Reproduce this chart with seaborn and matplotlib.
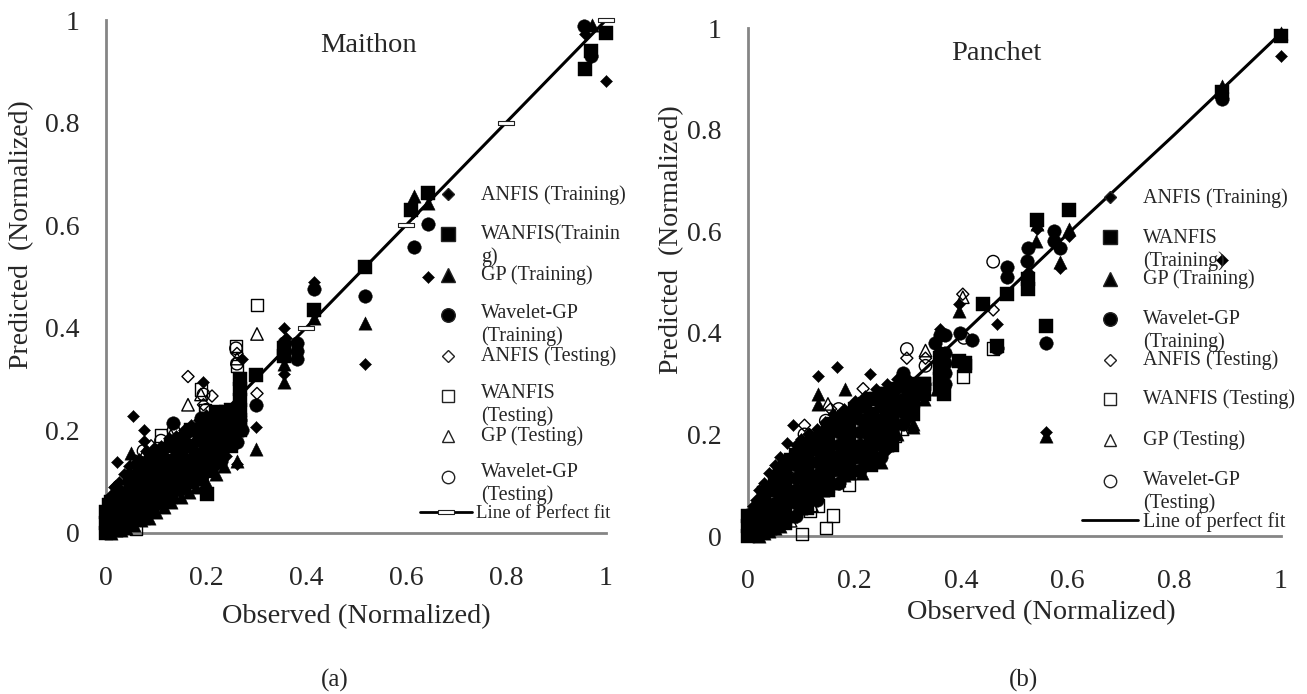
import matplotlib
matplotlib.use('Agg')
import matplotlib.pyplot as plt
import seaborn as sns

# values as (observed, predicted)
tick_values = [0, 0.2, 0.4, 0.6, 0.8, 1]
tick_labels = ['0', '0.2', '0.4', '0.6', '0.8', '1']

# Maithon
m_anfis_train = [(0, .05), (.005, .06), (.01, .075), (.015, .09), (.022, .138), (.025, .1), (.035, .115), (.045, .13),
                 (.054, .228), (.055, .135), (.065, .145), (.076, .2), (.076, .18), (.08, .16), (.095, .165), (.11, .17),
                 (.125, .185), (.14, .19), (.155, .2), (.17, .21), (.194, .295), (.185, .22), (.2, .23), (.22, .2),
                 (.24, .17), (.262, .135), (.272, .34), (.265, .28), (.3, .206), (.355, .4), (.355, .31), (.36, .38),
                 (.415, .49), (.517, .33), (.614, .624), (.644, .5), (.958, .972), (1, .882), (.03, .03), (.05, .05),
                 (.07, .07), (.09, .09), (.11, .11), (.13, .13), (.15, .13), (.17, .15), (.19, .14), (.21, .16),
                 (.02, .03), (.02, .05), (.02, .07), (.04, .02), (.04, .05), (.04, .08), (.04, .1), (.06, .03), (.06, .06),
                 (.06, .09), (.06, .12), (.08, .04), (.08, .065), (.08, .09), (.08, .115), (.08, .14), (.1, .05), (.1, .075),
                 (.1, .1), (.1, .125), (.1, .15), (.12, .065), (.12, .09), (.12, .115), (.12, .14), (.12, .165), (.14, .08),
                 (.14, .105), (.14, .13), (.14, .155), (.14, .175), (.16, .09), (.16, .115), (.16, .14), (.16, .165),
                 (.16, .19), (.18, .105), (.18, .13), (.18, .155), (.18, .18), (.18, .205), (.2, .115), (.2, .14), (.2, .165),
                 (.2, .19), (.2, .21), (.22, .13), (.22, .155), (.22, .18), (.22, .205), (.22, .225), (.24, .15), (.24, .175),
                 (.24, .2), (.24, .225)]
m_wanfis_train = [(0, 0), (0, .02), (0, .04), (.005, .055), (.01, .01), (.02, .02), (.03, .05), (.04, .04), (.05, .06),
                  (.06, .05), (.07, .09), (.08, .07), (.09, .1), (.1, .09), (.11, .12), (.12, .11), (.13, .14), (.14, .12),
                  (.15, .15), (.16, .13), (.17, .17), (.18, .15), (.19, .2), (.2, .22), (.21, .18), (.22, .235),
                  (.23, .21), (.24, .235), (.202, .076), (.268, .3), (.268, .28), (.268, .26), (.3, .308), (.355, .36),
                  (.355, .345), (.415, .435), (.517, .518), (.61, .63), (.644, .663), (.958, .905), (.97, .939), (1, .975),
                  (.01, .02), (.01, .04), (.01, .06), (.05, .02), (.05, .04), (.05, .09), (.05, .11), (.09, .045),
                  (.09, .07), (.09, .12), (.09, .145), (.13, .07), (.13, .095), (.13, .12), (.13, .17), (.17, .1),
                  (.17, .125), (.17, .2), (.21, .12), (.21, .145), (.21, .17), (.21, .195), (.21, .22), (.25, .17),
                  (.25, .195), (.25, .22), (.25, .24), (.268, .2), (.268, .22), (.268, .24)]
m_gp_train = [(.01, 0), (.02, .005), (.03, .005), (.04, .01), (.055, .015), (.07, .025), (.085, .03), (.1, .04),
              (.115, .05), (.13, .06), (.15, .07), (.165, .08), (.18, .09), (.2, .1), (.22, .115), (.235, .13), (.262, .14),
              (.3, .164), (.355, .295), (.355, .33), (.415, .42), (.517, .41), (.616, .656), (.644, .644), (.972, .991),
              (.05, .155), (.03, .08), (.06, .1), (.09, .13), (.12, .15), (.15, .18), (.18, .19), (.268, .24)]
m_wavelet_train = [(0, .01), (.01, .03), (.02, .04), (.03, .065), (.04, .07), (.05, .085), (.06, .075), (.07, .11),
                   (.08, .1), (.09, .115), (.1, .07), (.11, .08), (.12, .09), (.13, .1), (.134, .215), (.14, .09), (.15, .11),
                   (.16, .105), (.17, .125), (.18, .12), (.19, .105), (.2, .135), (.21, .14), (.225, .15), (.24, .19),
                   (.262, .177), (.268, .22), (.272, .2), (.3, .25), (.355, .37), (.355, .35), (.381, .37), (.381, .355),
                   (.381, .34), (.415, .475), (.517, .462), (.616, .558), (.644, .603), (.956, .989), (.97, .93),
                   (.03, .02), (.03, .04), (.03, .06), (.03, .08), (.07, .03), (.07, .055), (.07, .08), (.07, .105), (.07, .13),
                   (.11, .06), (.11, .085), (.11, .11), (.11, .135), (.11, .155), (.15, .085), (.15, .11), (.15, .135),
                   (.15, .16), (.15, .185), (.19, .105), (.19, .13), (.19, .155), (.19, .18), (.19, .205), (.19, .225),
                   (.23, .14), (.23, .165), (.23, .19), (.23, .215), (.23, .235)]
m_anfis_test = [(.164, .305), (.212, .267), (.262, .35), (.302, .272), (.09, .17), (.06, .14), (.02, .09), (.195, .25),
                (.1, .13), (.04, .03), (.23, .18), (.15, .09)]
m_wanfis_test = [(.302, .445), (.26, .365), (.262, .325), (.198, .24), (.06, .008), (.19, .28), (.11, .19), (.03, .09),
                 (.075, .03), (.15, .1), (.09, .05)]
m_gp_test = [(.302, .388), (.164, .25), (.262, .34), (.19, .27), (.08, .16), (.13, .19), (.25, .21), (.04, .1)]
m_wavelet_test = [(.26, .36), (.262, .33), (.195, .27), (.2, .24), (.11, .18), (.075, .16), (.025, .08), (.135, .2)]

# Panchet
p_anfis_train = [(0, .03), (.005, .05), (.01, .06), (.015, .07), (.02, .09), (.03, .105), (.04, .125), (.05, .14),
                 (.06, .155), (.073, .184), (.084, .218), (.09, .18), (.1, .19), (.115, .2), (.131, .314), (.13, .21),
                 (.145, .225), (.16, .24), (.167, .333), (.18, .25), (.2, .265), (.22, .275), (.229, .319), (.24, .29),
                 (.26, .3), (.28, .31), (.3, .31), (.32, .3), (.36, .408), (.396, .457), (.467, .418), (.525, .52),
                 (.542, .605), (.56, .204), (.585, .527), (.602, .59), (.89, .87), (.89, .543), (1, .945),
                 (.02, .03), (.04, .05), (.06, .07), (.08, .09), (.1, .11), (.12, .12), (.14, .14), (.16, .15), (.18, .17),
                 (.2, .18), (.22, .2), (.24, .22), (.26, .25), (.28, .26), (.3, .27),
                 (.06, .03), (.06, .055), (.06, .08), (.06, .105), (.06, .13), (.1, .06), (.1, .085), (.1, .135), (.1, .16),
                 (.14, .09), (.14, .115), (.14, .13), (.14, .155), (.14, .18), (.14, .205), (.18, .12), (.18, .14),
                 (.18, .165), (.18, .19), (.18, .215), (.22, .15), (.22, .175), (.22, .225), (.22, .25), (.26, .17),
                 (.26, .195), (.26, .22), (.26, .245), (.26, .27), (.3, .23), (.3, .255), (.3, .28), (.3, .305)]
p_wanfis_train = [(0, 0), (0, .02), (0, .04), (.01, .015), (.01, .04), (.02, .05), (.03, .07), (.04, .09), (.05, .1),
                  (.06, .12), (.07, .135), (.08, .15), (.09, .16), (.1, .17), (.11, .18), (.12, .19), (.13, .19),
                  (.14, .2), (.15, .21), (.16, .22), (.17, .23), (.18, .235), (.19, .24), (.2, .25), (.21, .255), (.22, .26),
                  (.23, .27), (.24, .27), (.25, .28), (.26, .28), (.27, .29), (.29, .3), (.31, .3), (.33, .3),
                  (.33, .28), (.367, .28), (.36, .33), (.395, .345), (.407, .34), (.407, .335), (.44, .457), (.486, .476),
                  (.525, .487), (.525, .506), (.542, .622), (.56, .414), (.602, .641), (.467, .375), (.89, .875), (1, .985),
                  (.03, .015), (.03, .04), (.03, .065), (.03, .085), (.07, .025), (.07, .05), (.07, .075), (.07, .1),
                  (.07, .125), (.11, .055), (.11, .08), (.11, .105), (.11, .13), (.11, .155), (.15, .09), (.15, .115),
                  (.15, .14), (.15, .165), (.15, .19), (.19, .125), (.19, .15), (.19, .175), (.19, .2), (.19, .225),
                  (.23, .14), (.23, .165), (.23, .19), (.23, .215), (.23, .24), (.27, .18), (.27, .205), (.27, .23),
                  (.27, .255), (.27, .28), (.31, .24), (.31, .265), (.31, .29), (.36, .29), (.36, .31), (.36, .35)]
p_gp_train = [(.02, 0), (.03, .005), (.04, .01), (.05, .015), (.06, .02), (.07, .035), (.08, .04), (.09, .05), (.1, .055),
              (.11, .065), (.12, .075), (.13, .085), (.14, .09), (.15, .1), (.16, .105), (.17, .11), (.18, .12), (.19, .125),
              (.2, .13), (.213, .125), (.22, .15), (.235, .16), (.25, .145), (.26, .18), (.28, .2), (.31, .22), (.31, .215),
              (.33, .27), (.355, .29), (.396, .443), (.131, .28), (.131, .26), (.182, .29), (.54, .58), (.542, .615),
              (.56, .197), (.585, .54), (.602, .604), (.89, .885), (1, .99), (.06, .09), (.1, .13), (.14, .17), (.18, .2)]
p_wavelet_train = [(0, .01), (.01, .005), (.02, .015), (.03, .03), (.04, .03), (.05, .045), (.06, .05), (.07, .06),
                   (.08, .07), (.09, .08), (.1, .085), (.11, .1), (.12, .1), (.13, .115), (.14, .12), (.15, .13), (.16, .13),
                   (.17, .14), (.18, .145), (.19, .15), (.2, .155), (.21, .17), (.22, .175), (.23, .19), (.24, .195), (.25, .2),
                   (.26, .22), (.27, .23), (.29, .25), (.31, .26), (.33, .3), (.35, .38), (.36, .395), (.37, .395), (.36, .36),
                   (.36, .34), (.398, .4), (.42, .385), (.467, .37), (.486, .529), (.486, .51), (.523, .541), (.525, .567),
                   (.56, .38), (.574, .6), (.574, .58), (.585, .567), (.89, .86),
                   (.05, .015), (.05, .04), (.05, .065), (.05, .09), (.05, .115), (.09, .04), (.09, .065), (.09, .09),
                   (.09, .115), (.09, .14), (.13, .07), (.13, .095), (.13, .12), (.13, .145), (.13, .17), (.13, .195),
                   (.17, .105), (.17, .13), (.17, .155), (.17, .18), (.17, .205), (.21, .13), (.21, .155), (.21, .18),
                   (.21, .205), (.21, .23), (.25, .155), (.25, .18), (.25, .205), (.25, .23), (.25, .255), (.29, .22),
                   (.29, .245), (.29, .27), (.29, .295), (.29, .32), (.37, .3), (.37, .32), (.37, .34), (.37, .36)]
p_anfis_test = [(.049, .12), (.106, .218), (.216, .29), (.298, .35), (.333, .35), (.403, .476), (.46, .445), (.155, .25),
                (.09, .13), (.18, .16), (.26, .21), (.115, .2)]
p_wanfis_test = [(.101, .004), (.146, .016), (.16, .04), (.116, .05), (.276, .198), (.403, .314), (.46, .369), (.24, .16),
                 (.19, .1), (.13, .06), (.33, .3)]
p_gp_test = [(.333, .365), (.403, .47), (.15, .26), (.12, .06), (.2, .26), (.29, .21), (.08, .03), (.25, .22)]
p_wavelet_test = [(.106, .2), (.146, .227), (.298, .368), (.333, .335), (.405, .39), (.46, .54), (.17, .25), (.11, .08)]

line_x = [0, 0.2, 0.4, 0.6, 0.8, 1]
m_line_y = [0, 0.2, 0.4, 0.6, 0.8, 1]
p_line_y = [0, 0.2, 0.395, 0.595, 0.79, 0.99]
m_line_marks_x = [0.4, 0.6, 0.8, 1]

series_labels = ['ANFIS (Training)', 'WANFIS(Trainin\ng)', 'GP (Training)', 'Wavelet-GP\n(Training)',
                 'ANFIS (Testing)', 'WANFIS\n(Testing)', 'GP (Testing)', 'Wavelet-GP\n(Testing)']
p_labels = ['ANFIS (Training)', 'WANFIS\n(Training)', 'GP (Training)', 'Wavelet-GP\n(Training)',
            'ANFIS (Testing)', 'WANFIS (Testing)', 'GP (Testing)', 'Wavelet-GP\n(Testing)']

W, H = 1307, 694
GREY = '#858585'
TXT = '#262626'
DASH = [(-1, -.25), (1, -.25), (1, .25), (-1, .25), (-1, -.25)]

sns.set_style('white')
plt.rcParams['font.family'] = ['Liberation Serif', 'DejaVu Serif']

fig = plt.figure(figsize=(W / 100, H / 100), dpi=100)


def fx(px):
    return px / W


def fy(py):
    return 1 - py / H


# marker, size, filled
styles = [('D', 38, True), ('s', 88, True), ('^', 92, True), ('o', 95, True),
          ('D', 38, False), ('s', 80, False), ('^', 80, False), ('o', 80, False)]


def draw_points(ax, pts, style):
    marker, size, filled = style
    x = [p[0] for p in pts]
    y = [p[1] for p in pts]
    if filled:
        sns.scatterplot(x=x, y=y, ax=ax, marker=marker, s=size, color='black', edgecolor='black',
                        linewidth=0.3, clip_on=False, zorder=3)
    else:
        sns.scatterplot(x=x, y=y, ax=ax, marker=marker, s=size, facecolors='none', edgecolor='black',
                        linewidth=1.0, clip_on=False, zorder=4)


def setup_axes(rect):
    ax = fig.add_axes(rect)
    ax.set_xlim(0, 1)
    ax.set_ylim(0, 1)
    ax.set_xticks(tick_values, tick_labels)
    ax.set_yticks(tick_values, tick_labels)
    ax.tick_params(axis='x', direction='in', length=6, width=1.5, color=GREY, labelsize=20, labelcolor=TXT, pad=24)
    ax.tick_params(axis='y', direction='in', length=6, width=1.5, color=GREY, labelsize=20, labelcolor=TXT, pad=19)
    sns.despine(ax=ax)
    for side in ['left', 'bottom']:
        ax.spines[side].set_color(GREY)
        ax.spines[side].set_linewidth(2)
    ax.patch.set_alpha(0)
    return ax


def legend_entry(px, py, tx, ty, style, text, fontsize=14.5):
    marker, size, filled = style
    fig.add_artist(plt.Line2D([fx(px)], [fy(py)], marker=marker, markersize=size ** 0.5,
                              markerfacecolor='black' if filled else 'none', markeredgecolor='#222222',
                              markeredgewidth=1.0, linestyle='none', transform=fig.transFigure))
    fig.text(fx(tx), fy(ty), text, fontsize=fontsize, color=TXT, va='center', ha='left', linespacing=1.2)


# panel (a)
ax1 = setup_axes([fx(106), fy(533), 500 / W, 513 / H])
maithon = [m_anfis_train, m_wanfis_train, m_gp_train, m_wavelet_train,
           m_anfis_test, m_wanfis_test, m_gp_test, m_wavelet_test]
for pts, st in zip(maithon, styles):
    draw_points(ax1, pts, st)
sns.lineplot(x=line_x, y=m_line_y, ax=ax1, color='black', linewidth=2.2, zorder=5)
ax1.plot(m_line_marks_x, m_line_marks_x, linestyle='none', marker=DASH, markersize=11, markerfacecolor='white',
         markeredgecolor='#222222', markeredgewidth=0.8, zorder=6, clip_on=False)

# panel (b)
ax2 = setup_axes([fx(748), fy(536), 533 / W, 508 / H])
panchet = [p_anfis_train, p_wanfis_train, p_gp_train, p_wavelet_train,
           p_anfis_test, p_wanfis_test, p_gp_test, p_wavelet_test]
for pts, st in zip(panchet, styles):
    draw_points(ax2, pts, st)
sns.lineplot(x=line_x, y=p_line_y, ax=ax2, color='black', linewidth=2.2, zorder=5)

# legends are hand placed, the entries wrap and overlap in the original
m_rows = [(194, 195), (234, 246), (275, 275), (315, 325), (356, 356), (396, 405), (436, 436), (477, 484)]
for (my, ty), st, label in zip(m_rows, styles, series_labels):
    legend_entry(448, my, 481, ty, st, label)
fig.add_artist(plt.Line2D([fx(420), fx(472)], [fy(512), fy(512)], color='black', linewidth=2,
                          transform=fig.transFigure))
fig.add_artist(plt.Line2D([fx(446)], [fy(512)], marker=DASH, markersize=11, markerfacecolor='white',
                          markeredgecolor='#222222', markeredgewidth=0.8, linestyle='none', transform=fig.transFigure))
fig.text(fx(476), fy(514), 'Line of Perfect fit', fontsize=13.5, color=TXT, va='center')

p_rows = [(197, 198), (237, 250), (279, 279), (319, 331), (360, 360), (399, 399), (440, 440), (481, 492)]
for (my, ty), st, label in zip(p_rows, styles, p_labels):
    legend_entry(1110, my, 1143, ty, st, label)
fig.add_artist(plt.Line2D([fx(1082), fx(1138)], [fy(520), fy(520)], color='black', linewidth=2,
                          transform=fig.transFigure))
fig.text(fx(1143), fy(522), 'Line of perfect fit', fontsize=14.5, color=TXT, va='center')

# titles and axis labels
fig.text(fx(368), fy(46), 'Maithon', fontsize=20.5, color=TXT, ha='center', va='center')
fig.text(fx(996), fy(54), 'Panchet', fontsize=20.5, color=TXT, ha='center', va='center')
fig.text(fx(22), fy(235), 'Predicted  (Normalized)', fontsize=20, color=TXT, rotation=90, ha='center', va='center')
fig.text(fx(672), fy(240), 'Predicted  (Normalized)', fontsize=20, color=TXT, rotation=90, ha='center', va='center')
fig.text(fx(356), fy(617), 'Observed (Normalized)', fontsize=20.4, color=TXT, ha='center', va='center')
fig.text(fx(1041), fy(613), 'Observed (Normalized)', fontsize=20.4, color=TXT, ha='center', va='center')
fig.text(fx(335), fy(680), '(a)', fontsize=18, color=TXT, ha='center', va='center')
fig.text(fx(1024), fy(680), '(b)', fontsize=18, color=TXT, ha='center', va='center')

fig.savefig('out.png', dpi=100)
